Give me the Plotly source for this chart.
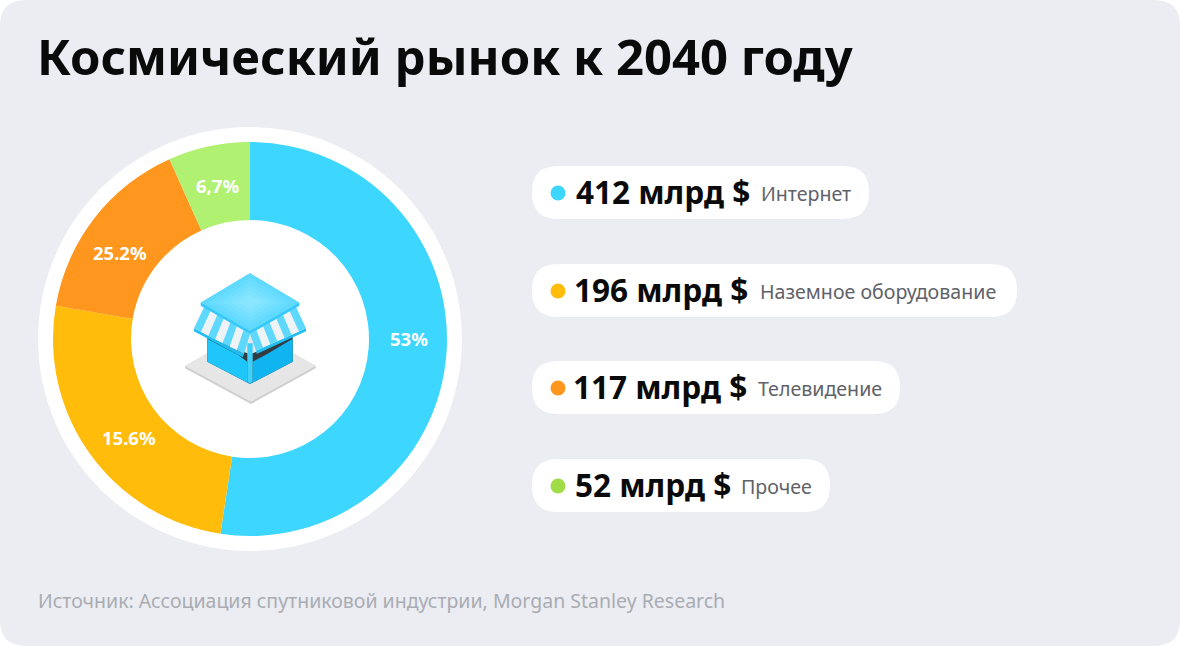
"""Space market by 2040: donut chart with a pill legend."""

import plotly.graph_objects as go

W, H = 1180, 646

# Drawn slice shares (they differ slightly from the printed labels)
slice_shares = [52.4, 25.3, 15.6, 6.7]
slice_labels = ["53%", "15.6%", "25.2%", "6,7%"]
slice_label_xy = [(409, 338), (129, 437), (120, 252), (217, 185)]
slice_colors = ["#3dd6ff", "#ffbc0b", "#ff971f", "#b1f171"]

legend_values = ["412 млрд $", "196 млрд $", "117 млрд $", "52 млрд $"]
legend_names = ["Интернет", "Наземное оборудование", "Телевидение", "Прочее"]
legend_dots = ["#3dd6ff", "#ffbc0b", "#ff971f", "#a0dc46"]
pill_right = [869, 1017, 900, 830]
pill_top = [166, 264, 361, 459]
value_x = [574, 572, 571, 573]
name_x = [759, 758, 756, 739]

TITLE = "Космический рынок к 2040 году"
SOURCE = "Источник: Ассоциация спутниковой индустрии, Morgan Stanley Research"
FONT = "Noto Sans"


def rounded(x0, y0, x1, y1, r):
    return (
        f"M{x0 + r},{y0} L{x1 - r},{y0} Q{x1},{y0} {x1},{y0 + r} L{x1},{y1 - r} "
        f"Q{x1},{y1} {x1 - r},{y1} L{x0 + r},{y1} Q{x0},{y1} {x0},{y1 - r} "
        f"L{x0},{y0 + r} Q{x0},{y0} {x0 + r},{y0} Z"
    )


def poly(points, color, layer="above"):
    """Small helper for the icon: a closed polygon in zoomed crop coordinates."""
    pts = [(170 + x / 3, 260 + y / 3) for x, y in points]
    path = "M" + " L".join(f"{x:.1f},{y:.1f}" for x, y in pts) + " Z"
    return dict(type="path", path=path, fillcolor=color, line_width=0, layer=layer)


def lerp(p, q, t):
    return (p[0] + (q[0] - p[0]) * t, p[1] + (q[1] - p[1]) * t)


def awning(a, b, c, d, n, first, second):
    """Split quad a-b-c-d (a-b top edge, d-c bottom edge) in n stripes."""
    out = []
    for i in range(n):
        t0, t1 = i / n, (i + 1) / n
        out.append(poly([lerp(a, b, t0), lerp(a, b, t1), lerp(d, c, t1), lerp(d, c, t0)],
                        first if i % 2 == 0 else second))
    return out


shapes = [
    dict(type="path", path=rounded(0, 0, W, H, 26), fillcolor="#ebedf2", line_width=0, layer="below"),
    dict(type="circle", x0=38, y0=127, x1=462, y1=551, fillcolor="white", line_width=0, layer="below"),
]
for right, top in zip(pill_right, pill_top):
    shapes.append(dict(type="path", path=rounded(532, top, right, top + 53, 26),
                       fillcolor="white", line_width=0, layer="below"))

# shop icon
shapes += [
    poly([(45, 318), (240, 207), (437, 318), (437, 325), (243, 432), (45, 325)], "#cfcfcf"),
    poly([(45, 318), (240, 207), (437, 318), (243, 425)], "#e6e6e6"),
    poly([(112, 230), (232, 280), (248, 280), (368, 230), (368, 305), (240, 372), (112, 305)], "#333a40"),
    poly([(112, 236), (205, 285), (232, 305), (232, 363), (240, 372), (112, 305)], "#1ec6fb"),
    poly([(248, 305), (290, 283), (368, 236), (368, 305), (240, 372), (248, 363)], "#10b4ef"),
    poly([(232, 250), (248, 250), (248, 363), (240, 372), (232, 363)], "#3fd0fb"),
]
# awning thickness, then the stripes
shapes += [
    poly([(72, 205), (222, 282), (218, 292), (72, 214)], "#20bdf0"),
    poly([(408, 205), (258, 272), (260, 282), (408, 214)], "#20bdf0"),
]
shapes += awning((103, 140), (240, 222), (222, 282), (72, 205), 7, "#5fd8fd", "#eef3f5")
shapes += awning((240, 222), (378, 140), (408, 205), (258, 272), 7, "#5fd8fd", "#eef3f5")
shapes.append(poly([(92, 128), (240, 40), (388, 128), (388, 137), (240, 222), (92, 137)], "#35c8f8"))
# roof: soft light spot made of nested diamonds
roof_steps = ["#60d9fe", "#68dcff", "#70deff", "#78e1ff", "#80e3ff", "#88e6ff"]
for k, color in enumerate(roof_steps):
    s = 1 - k * 0.15
    cx, cy = 240, 125
    shapes.append(poly([(cx - 148 * s, cy + 3 * s), (cx, cy - 85 * s), (cx + 148 * s, cy + 3 * s), (cx, cy + 88 * s)], color))

annotations = [
    dict(x=35, y=56, text=f"<b>{TITLE}</b>", xanchor="left", font=dict(size=49, color="#0a0a0a")),
    dict(x=36, y=600, text=SOURCE, xanchor="left", font=dict(size=19.5, color="#a9acb2")),
]
for label, (x, y) in zip(slice_labels, slice_label_xy):
    annotations.append(dict(x=x, y=y, text=f"<b>{label}</b>", font=dict(size=18.5, color="white")))
for i, top in enumerate(pill_top):
    annotations.append(dict(x=value_x[i], y=top + 25, text=f"<b>{legend_values[i]}</b>", xanchor="left",
                            font=dict(size=31.5, color="#0a0a0a")))
    annotations.append(dict(x=name_x[i], y=top + 27, text=legend_names[i], xanchor="left",
                            font=dict(size=19.6, color="#5f6268")))
for a in annotations:
    a.update(xref="x", yref="y", showarrow=False)

fig = go.Figure()
fig.add_trace(go.Scatter(
    x=[558] * 4,
    y=[top + 27 for top in pill_top],
    mode="markers",
    marker=dict(size=15, color=legend_dots),
    showlegend=False,
    hoverinfo="skip",
))
fig.add_trace(go.Pie(
    values=slice_shares,
    sort=False,
    direction="clockwise",
    rotation=0,
    hole=0.604,
    textinfo="none",
    marker=dict(colors=slice_colors, line=dict(width=0)),
    domain=dict(x=[53 / W, 447 / W], y=[1 - 536 / H, 1 - 142 / H]),
    showlegend=False,
))
fig.update_layout(
    width=W,
    height=H,
    margin=dict(t=0, b=0, l=0, r=0),
    paper_bgcolor="white",
    plot_bgcolor="rgba(0,0,0,0)",
    font=dict(family=FONT),
    shapes=shapes,
    annotations=annotations,
)
fig.update_xaxes(range=[0, W], visible=False, fixedrange=True)
fig.update_yaxes(range=[H, 0], visible=False, fixedrange=True)
fig.write_html(
    "out.html",
    config=dict(displayModeBar=False),
    post_script="document.body.style.margin = '0'; document.documentElement.style.overflow = 'hidden';",
)
